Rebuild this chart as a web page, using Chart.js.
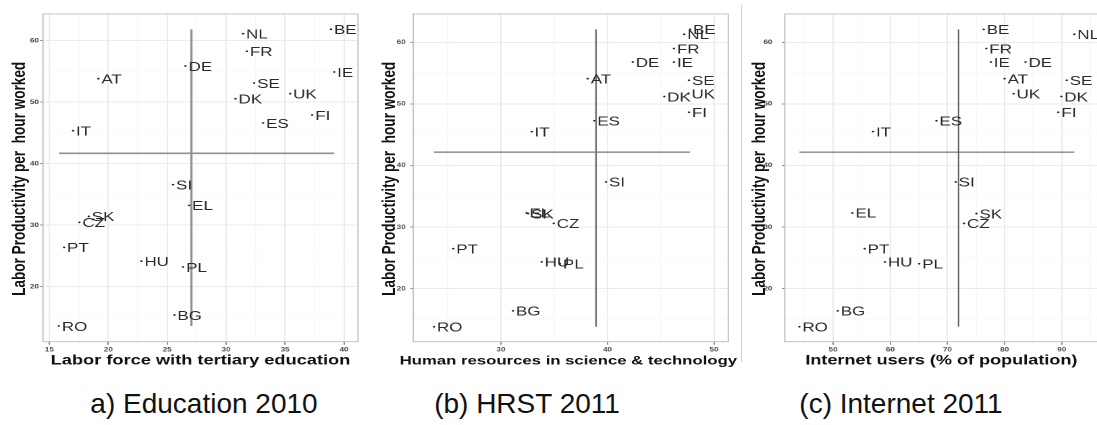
<!DOCTYPE html>
<html>
<head>
<meta charset="utf-8">
<script src="https://cdn.jsdelivr.net/npm/chart.js@4.4.1/dist/chart.umd.min.js"></script>
<style>
  html, body { margin: 0; padding: 0; background: #fff; width: 1097px; height: 425px; overflow: hidden; }
  /* the source figure was stretched sideways, so each panel is drawn narrow and widened */
  .panel { position: absolute; top: 0; transform-origin: 0 0; transform: scaleX(1.35); }
  .caption { position: absolute; top: 390px; width: 400px; text-align: center; white-space: nowrap;
             font: 28px/28px 'Liberation Sans', Arial, sans-serif; color: #111; }
  #sep { position: absolute; left: 741px; top: 5px; width: 1px; height: 357px; background: #d2d2d2; }
</style>
</head>
<body>
<div class="panel" style="left:0px"><canvas id="chartA" width="274" height="372"></canvas></div>
<div class="panel" style="left:370px"><canvas id="chartB" width="275" height="372"></canvas></div>
<div class="panel" style="left:741.5px"><canvas id="chartC" width="273" height="372"></canvas></div>
<div id="sep"></div>
<div class="caption" style="left:4px">a) Education 2010</div>
<div class="caption" style="left:327px">(b) HRST 2011</div>
<div class="caption" style="left:701px">(c) Internet 2011</div>

<script>
const FONT = "'Liberation Sans', Arial, sans-serif";

// Country codes, same order in every series
const COUNTRIES = ['BE', 'NL', 'FR', 'DE', 'IE', 'AT', 'SE', 'UK', 'DK', 'FI', 'ES',
                   'IT', 'SI', 'EL', 'SK', 'CZ', 'PT', 'HU', 'PL', 'BG', 'RO'];

// a) 2010
const EDU_2010  = [38.9, 31.44, 31.76, 26.55, 39.17, 19.16, 32.38, 35.43, 30.79, 37.3, 33.14,
                   17.01, 25.5, 26.86, 18.34, 17.55, 16.25, 22.81, 26.35, 25.61, 15.8];
const PROD_2010 = [61.85, 61.14, 58.28, 55.89, 54.91, 53.82, 53.12, 51.38, 50.57, 47.92, 46.62,
                   45.37, 36.59, 33.22, 31.43, 30.46, 26.4, 24.15, 23.2, 15.4, 13.61];

// b) and c) 2011
const HRST_2011     = [47.75, 47.21, 46.24, 42.37, 46.24, 38.14, 47.65, 47.6, 45.33, 47.65, 38.76,
                       32.88, 39.86, 32.4, 32.55, 34.95, 25.52, 33.82, 35.54, 31.13, 23.71];
const INTERNET_2011 = [76.34, 92.2, 76.8, 83.66, 77.6, 80.0, 90.87, 81.57, 89.93, 89.4, 68.08,
                       56.98, 71.45, 53.37, 75.07, 72.89, 55.52, 59.07, 65.06, 50.8, 44.1];
const PROD_2011     = [62.1, 61.3, 59.0, 56.8, 56.8, 54.1, 53.85, 51.65, 51.2, 48.65, 47.27,
                       45.5, 37.34, 32.3, 32.2, 30.6, 26.5, 24.35, 24.05, 16.4, 13.83];

// Ticks (major ones are labelled, minor ones only get a faint grid line)
const Y_MAJOR   = [20, 30, 40, 50, 60];
const Y_MINOR   = [15, 25, 35, 45, 55];
const X_MAJOR_A = [15, 20, 25, 30, 35, 40];
const X_MINOR_A = [17.5, 22.5, 27.5, 32.5, 37.5];
const X_MAJOR_B = [30, 40, 50];
const X_MINOR_B = [25, 35, 45];
const X_MAJOR_C = [50, 60, 70, 80, 90];
const X_MINOR_C = [45, 55, 65, 75, 85, 95];

const Y_TITLE = 'Labor Productivity per  hour worked';

const PANELS = [
  { id: 'chartA', xs: EDU_2010, ys: PROD_2010, xTitle: 'Labor force with tertiary education',
    xMin: 14.46, xMax: 41.19, yMin: 11.06, yMax: 64.34, xMajor: X_MAJOR_A, xMinor: X_MINOR_A,
    left: 31.85, right: 8.8, yTickPad: 0.8, yTitleX: 18.5, xTitleShift: 0, xTitleSize: 13.5,
    lineColor: '#8f8f8f', lineWidth: 1.6 },
  { id: 'chartB', xs: HRST_2011, ys: PROD_2011, xTitle: 'Human resources in science & technology',
    xMin: 21.77, xMax: 51.34, yMin: 11.4, yMax: 64.6, xMajor: X_MAJOR_B, xMinor: X_MINOR_B,
    left: 32.07, right: 9.6, yTickPad: 3.4, yTitleX: 18.5, xTitleShift: -1.8, xTitleSize: 12.4,
    lineColor: '#777777', lineWidth: 1.3 },
  { id: 'chartC', xs: INTERNET_2011, ys: PROD_2011, xTitle: 'Internet users (% of population)',
    xMin: 41.55, xMax: 96.6, yMin: 11.4, yMax: 64.6, xMajor: X_MAJOR_C, xMinor: X_MINOR_C,
    left: 31.7, right: 8.2, yTickPad: 7.0, yTitleX: 17.0, xTitleShift: -0.6, xTitleSize: 13.4,
    lineColor: '#5a5a5a', lineWidth: 1.0 },
];

function mean(arr) {
  return arr.reduce((s, v) => s + v, 0) / arr.length;
}

// Country labels, panel border and axis titles
const panelDecor = {
  id: 'panelDecor',
  afterDatasetsDraw(chart, args, opts) {
    const ctx = chart.ctx;
    const meta = chart.getDatasetMeta(0);
    ctx.save();
    ctx.font = '12.6px ' + FONT;
    ctx.fillStyle = '#2a2a2a';
    ctx.textAlign = 'left';
    ctx.textBaseline = 'middle';
    meta.data.forEach((pt, i) => {
      ctx.fillText(COUNTRIES[i], pt.x + 2.2, pt.y + 1.3);
    });
    ctx.restore();
  },
  afterDraw(chart, args, opts) {
    const ctx = chart.ctx;
    const a = chart.chartArea;
    ctx.save();
    ctx.strokeStyle = '#c2c2c2';
    ctx.lineWidth = 1;
    ctx.strokeRect(a.left, a.top, a.right - a.left, a.bottom - a.top);

    ctx.fillStyle = '#111';
    ctx.font = 'bold ' + opts.xTitleSize + 'px ' + FONT;
    ctx.textAlign = 'center';
    ctx.textBaseline = 'alphabetic';
    ctx.fillText(opts.xTitle, (a.left + a.right) / 2 + opts.xTitleShift, 364.3);

    ctx.font = 'bold 13.6px ' + FONT;
    ctx.translate(opts.yTitleX, (a.top + a.bottom) / 2 + 1);
    ctx.rotate(-Math.PI / 2);
    ctx.fillText(Y_TITLE, 0, 0);
    ctx.restore();
  }
};

function makePanel(p) {
  const points = p.xs.map((x, i) => ({ x: x, y: p.ys[i] }));
  const mx = mean(p.xs), my = mean(p.ys);
  const hLine = [{ x: Math.min(...p.xs), y: my }, { x: Math.max(...p.xs), y: my }];
  const vLine = [{ x: mx, y: Math.min(...p.ys) }, { x: mx, y: Math.max(...p.ys) }];

  const xTicks = p.xMajor.concat(p.xMinor).sort((a, b) => a - b);
  const yTicks = Y_MAJOR.concat(Y_MINOR).sort((a, b) => a - b);

  const gridFor = (major, tickLength) => ({
    color: (c) => major.includes(c.tick.value) ? '#ebebeb' : '#f5f5f5',
    lineWidth: (c) => major.includes(c.tick.value) ? 1 : 0.6,
    tickColor: (c) => major.includes(c.tick.value) ? '#8a8a8a' : 'rgba(0,0,0,0)',
    tickLength: tickLength,
    drawTicks: true,
  });
  const tickFont = { family: FONT, size: 6, weight: 'bold' };

  new Chart(document.getElementById(p.id), {
    type: 'scatter',
    data: {
      datasets: [
        { data: points, pointRadius: 0.9, pointBackgroundColor: '#222', pointBorderWidth: 0 },
        { data: hLine, showLine: true, pointRadius: 0, borderColor: p.lineColor, borderWidth: p.lineWidth },
        { data: vLine, showLine: true, pointRadius: 0, borderColor: p.lineColor, borderWidth: p.lineWidth },
      ]
    },
    options: {
      responsive: false,
      animation: false,
      devicePixelRatio: 2,
      events: [],
      layout: { autoPadding: false, padding: { left: 0, right: p.right, top: 14, bottom: 0 } },
      plugins: {
        legend: { display: false },
        tooltip: { enabled: false },
        panelDecor: { xTitle: p.xTitle, yTitleX: p.yTitleX, xTitleShift: p.xTitleShift, xTitleSize: p.xTitleSize },
      },
      scales: {
        x: {
          type: 'linear', position: 'bottom', min: p.xMin, max: p.xMax,
          afterBuildTicks: (s) => { s.ticks = xTicks.map(v => ({ value: v })); },
          afterFit: (s) => { s.height = 30.3; },
          grid: gridFor(p.xMajor, 3),
          border: { display: false },
          ticks: {
            autoSkip: false, maxRotation: 0, padding: 1.5, font: tickFont, color: '#4d4d4d',
            callback: (v) => p.xMajor.includes(v) ? String(v) : '',
          },
        },
        y: {
          type: 'linear', position: 'left', min: p.yMin, max: p.yMax,
          afterBuildTicks: (s) => { s.ticks = yTicks.map(v => ({ value: v })); },
          afterFit: (s) => { s.width = p.left; },
          grid: gridFor(Y_MAJOR, 2.2),
          border: { display: false },
          ticks: {
            autoSkip: false, padding: p.yTickPad, font: tickFont, color: '#4d4d4d',
            callback: (v) => Y_MAJOR.includes(v) ? String(v) : '',
          },
        },
      },
    },
    plugins: [panelDecor],
  });
}

PANELS.forEach(makePanel);
</script>
</body>
</html>
